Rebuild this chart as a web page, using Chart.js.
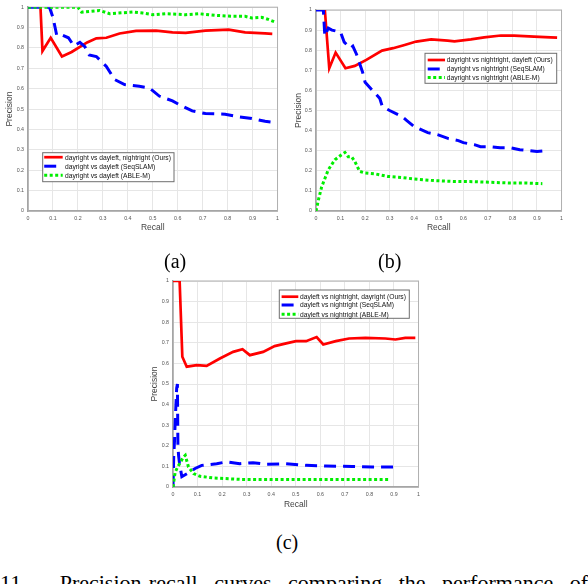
<!DOCTYPE html>
<html>
<head>
<meta charset="utf-8">
<script src="https://cdn.jsdelivr.net/npm/chart.js@4.4.1/dist/chart.umd.min.js"></script>
<style>
    body { margin: 0; background: #fff; overflow: hidden; }
    #page { position: relative; width: 588px; height: 584px; overflow: hidden; background: #fff; }
    canvas { position: absolute; }
    .cap { position: absolute; font-family: 'Liberation Serif', 'Times New Roman', serif; font-size: 20px; color: #000; line-height: 20px; }
    #note {
        position: absolute; left: 0; top: 572px; width: 588px;
        font-family: 'Liberation Serif', 'Times New Roman', serif; font-size: 22px; line-height: 22px;
        text-align: justify; text-align-last: justify; white-space: nowrap; color: #000;
    }
</style>
</head>
<body>
<div id="page">
    <canvas id="chartA" width="278" height="233" style="left:5px;top:0px"></canvas>
    <canvas id="chartB" width="273" height="233" style="left:294px;top:0px"></canvas>
    <canvas id="chartC" width="274" height="240" style="left:150px;top:270px"></canvas>
    <div class="cap" style="left:164px;top:251px">(a)</div>
    <div class="cap" style="left:378px;top:251px">(b)</div>
    <div class="cap" style="left:276px;top:532px">(c)</div>
    <div id="note">11.&nbsp;&nbsp;Precision-recall curves comparing the performance of</div>
</div>
<script>
// ---- data ----
// (a) dayright vs dayleft
const aOursX = [0.048, 0.05, 0.058, 0.091, 0.136, 0.175, 0.237, 0.274, 0.314, 0.367, 0.433, 0.513, 0.579, 0.632, 0.711, 0.804, 0.87, 0.95, 0.979];
const aOursY = [1, 1, 0.785, 0.85, 0.758, 0.78, 0.827, 0.847, 0.85, 0.871, 0.884, 0.885, 0.876, 0.874, 0.885, 0.89, 0.876, 0.871, 0.869];
const aSeqX = [0, 0.086, 0.1, 0.115, 0.128, 0.162, 0.184, 0.208, 0.228, 0.245, 0.274, 0.314, 0.347, 0.387, 0.446, 0.486, 0.526, 0.579, 0.605, 0.658, 0.711, 0.79, 0.844, 0.897, 0.95, 0.985];
const aSeqY = [1, 1, 0.95, 0.863, 0.868, 0.85, 0.81, 0.827, 0.806, 0.766, 0.758, 0.709, 0.645, 0.62, 0.612, 0.604, 0.564, 0.54, 0.523, 0.491, 0.478, 0.475, 0.462, 0.454, 0.44, 0.435];
const aAbleX = [0, 0.2, 0.215, 0.287, 0.327, 0.42, 0.46, 0.5, 0.552, 0.632, 0.685, 0.751, 0.817, 0.87, 0.897, 0.936, 0.963, 0.99];
const aAbleY = [1, 1, 0.976, 0.984, 0.968, 0.976, 0.971, 0.963, 0.968, 0.963, 0.968, 0.96, 0.955, 0.955, 0.947, 0.95, 0.94, 0.927];

// (b) dayright vs nightright
const bOursX = [0.028, 0.036, 0.054, 0.08, 0.12, 0.158, 0.205, 0.269, 0.314, 0.361, 0.408, 0.469, 0.536, 0.564, 0.631, 0.685, 0.753, 0.807, 0.888, 0.955, 0.982];
const bOursY = [1, 1, 0.71, 0.788, 0.71, 0.722, 0.752, 0.798, 0.81, 0.826, 0.843, 0.854, 0.848, 0.844, 0.854, 0.864, 0.873, 0.873, 0.868, 0.864, 0.863];
const bSeqX = [0, 0.03, 0.036, 0.05, 0.065, 0.1, 0.115, 0.14, 0.15, 0.165, 0.19, 0.2, 0.23, 0.26, 0.27, 0.3, 0.35, 0.37, 0.4, 0.455, 0.495, 0.54, 0.58, 0.6, 0.645, 0.67, 0.71, 0.75, 0.79, 0.83, 0.87, 0.9, 0.935];
const bSeqY = [1, 1, 0.87, 0.91, 0.9, 0.89, 0.84, 0.81, 0.82, 0.78, 0.69, 0.64, 0.6, 0.56, 0.52, 0.5, 0.47, 0.45, 0.42, 0.39, 0.38, 0.36, 0.35, 0.34, 0.33, 0.32, 0.32, 0.315, 0.315, 0.305, 0.3, 0.296, 0.3];
const bAbleX = [0, 0.01, 0.023, 0.05, 0.077, 0.104, 0.118, 0.131, 0.145, 0.158, 0.178, 0.199, 0.239, 0.293, 0.347, 0.401, 0.482, 0.564, 0.645, 0.726, 0.793, 0.86, 0.922];
const bAbleY = [0, 0.056, 0.12, 0.205, 0.255, 0.28, 0.291, 0.27, 0.27, 0.247, 0.197, 0.189, 0.185, 0.172, 0.167, 0.159, 0.151, 0.147, 0.146, 0.142, 0.139, 0.139, 0.136];

// (c) dayleft vs nightright
const cOursX = [0, 0.027, 0.038, 0.056, 0.097, 0.137, 0.191, 0.245, 0.283, 0.313, 0.367, 0.414, 0.461, 0.501, 0.542, 0.585, 0.612, 0.663, 0.717, 0.784, 0.865, 0.906, 0.946, 0.987];
const cOursY = [1, 1, 0.632, 0.584, 0.592, 0.588, 0.624, 0.656, 0.669, 0.64, 0.656, 0.684, 0.697, 0.708, 0.708, 0.728, 0.692, 0.708, 0.721, 0.724, 0.721, 0.716, 0.724, 0.724];
const cSeqX = [0, 0.003, 0.006, 0.009, 0.012, 0.015, 0.018, 0.02, 0.023, 0.026, 0.036, 0.057, 0.09, 0.117, 0.178, 0.218, 0.272, 0.326, 0.38, 0.46, 0.542, 0.623, 0.73, 0.811, 0.906];
const cSeqY = [0, 0.15, 0.22, 0.32, 0.4, 0.48, 0.5, 0.2, 0.15, 0.12, 0.05, 0.065, 0.09, 0.105, 0.113, 0.122, 0.113, 0.118, 0.11, 0.113, 0.105, 0.102, 0.1, 0.097, 0.097];
const cAbleX = [0, 0.009, 0.019, 0.03, 0.043, 0.05, 0.063, 0.084, 0.11, 0.164, 0.272, 0.407, 0.542, 0.677, 0.811, 0.879];
const cAbleY = [0, 0.073, 0.097, 0.12, 0.146, 0.154, 0.097, 0.065, 0.052, 0.044, 0.037, 0.036, 0.036, 0.036, 0.036, 0.036];

const tickValues = [0, 0.1, 0.2, 0.3, 0.4, 0.5, 0.6, 0.7, 0.8, 0.9, 1];

const labelsA = ['dayright vs dayleft, nightright (Ours)', 'dayright vs dayleft (SeqSLAM)', 'dayright vs dayleft (ABLE-M)'];
const labelsB = ['dayright vs nightright, dayleft (Ours)', 'dayright vs nightright (SeqSLAM)', 'dayright vs nightright (ABLE-M)'];
const labelsC = ['dayleft vs nightright, dayright (Ours)', 'dayleft vs nightright (SeqSLAM)', 'dayleft vs nightright (ABLE-M)'];

const FONT = "'Liberation Sans', Arial, sans-serif";

function toPoints(xs, ys) {
    return xs.map((x, i) => ({ x: x, y: ys[i] }));
}

// light frame around the plot area (MATLAB box)
const frameBox = {
    id: 'frameBox',
    beforeDatasetsDraw(chart) {
        const a = chart.chartArea;
        const ctx = chart.ctx;
        ctx.save();
        ctx.strokeStyle = '#b0b0b0';
        ctx.lineWidth = 1;
        ctx.strokeRect(a.left, a.top, a.right - a.left, a.bottom - a.top);
        ctx.restore();
    }
};

// legend box drawn inside the plot
const boxLegend = {
    id: 'boxLegend',
    afterDatasetsDraw(chart, args, opts) {
        const ctx = chart.ctx;
        ctx.save();
        ctx.setLineDash([]);
        ctx.fillStyle = '#fff';
        ctx.fillRect(opts.x, opts.y, opts.w, opts.h);
        ctx.strokeStyle = '#6e6e6e';
        ctx.lineWidth = 1;
        ctx.strokeRect(opts.x, opts.y, opts.w, opts.h);
        chart.data.datasets.forEach((ds, i) => {
            const y = opts.y + opts.rows[i];
            ctx.beginPath();
            ctx.setLineDash(ds.borderDash || []);
            ctx.lineWidth = ds.borderWidth;
            ctx.strokeStyle = ds.borderColor;
            ctx.moveTo(opts.x + opts.s0, y);
            ctx.lineTo(opts.x + opts.s1, y);
            ctx.stroke();
            ctx.setLineDash([]);
            ctx.fillStyle = '#111';
            ctx.font = opts.fontSize + 'px ' + FONT;
            ctx.textBaseline = 'middle';
            ctx.fillText(ds.label, opts.x + opts.tx, y + 0.5);
        });
        ctx.restore();
    }
};

function axis(title, fixedSize, horizontal) {
    return {
        type: 'linear',
        min: 0,
        max: 1,
        afterBuildTicks: (s) => { s.ticks = tickValues.map(v => ({ value: v })); },
        afterFit: (s) => {
            if (horizontal) s.height = fixedSize; else s.width = fixedSize;
        },
        grid: { color: '#e6e6e6', lineWidth: 1, drawTicks: false },
        border: { color: '#9a9a9a', width: 1.5 },
        ticks: {
            padding: 4,
            color: '#555',
            font: { family: FONT, size: 5.3 },
            maxRotation: 0,
            autoSkip: false,
            callback: (v) => String(+v.toFixed(1))
        },
        title: {
            display: true,
            text: title,
            color: '#444',
            font: { family: FONT, size: 8.5 },
            padding: { top: 0, bottom: 0 }
        }
    };
}

function makeChart(id, series, labels, frame) {
    const ctx = document.getElementById(id).getContext('2d');
    const styles = [
        { color: '#ff0000', width: 2.7, dash: [], order: 3 },
        { color: '#0000ff', width: 3, dash: [12, 7], order: 2 },
        { color: '#00ee00', width: 3, dash: [3, 2.5], order: 1 }
    ];
    return new Chart(ctx, {
        type: 'line',
        data: {
            datasets: series.map((s, i) => ({
                label: labels[i],
                data: toPoints(s[0], s[1]),
                borderColor: styles[i].color,
                borderWidth: styles[i].width,
                borderDash: styles[i].dash,
                order: styles[i].order,
                pointRadius: 0,
                tension: 0,
                fill: false
            }))
        },
        options: {
            responsive: false,
            animation: false,
            devicePixelRatio: 1,
            layout: { padding: { top: frame.top, right: frame.right, left: 0, bottom: 0 } },
            plugins: {
                legend: { display: false },
                tooltip: { enabled: false },
                boxLegend: frame.legend
            },
            scales: {
                x: axis('Recall', frame.xHeight, true),
                y: axis('Precision', frame.yWidth, false)
            }
        },
        plugins: [frameBox, boxLegend]
    });
}

makeChart('chartA',
    [[aOursX, aOursY], [aSeqX, aSeqY], [aAbleX, aAbleY]], labelsA,
    { top: 5, right: 4, xHeight: 22, yWidth: 23,
      legend: { x: 37.7, y: 152.7, w: 131.3, h: 29, rows: [4.5, 13.5, 22.5], s0: 1.5, s1: 20, tx: 22.3, fontSize: 6.7 } });

makeChart('chartB',
    [[bOursX, bOursY], [bSeqX, bSeqY], [bAbleX, bAbleY]], labelsB,
    { top: 10, right: 4, xHeight: 22, yWidth: 22,
      legend: { x: 131, y: 53.3, w: 131.7, h: 30, rows: [6.7, 15.7, 24.3], s0: 2.7, s1: 20, tx: 21.7, fontSize: 6.7 } });

makeChart('chartC',
    [[cOursX, cOursY], [cSeqX, cSeqY], [cAbleX, cAbleY]], labelsC,
    { top: 11, right: 4, xHeight: 23, yWidth: 23,
      legend: { x: 129.3, y: 20, w: 130, h: 28.3, rows: [6.7, 15, 24.3], s0: 2.3, s1: 19, tx: 20.7, fontSize: 6.7 } });
</script>
</body>
</html>
